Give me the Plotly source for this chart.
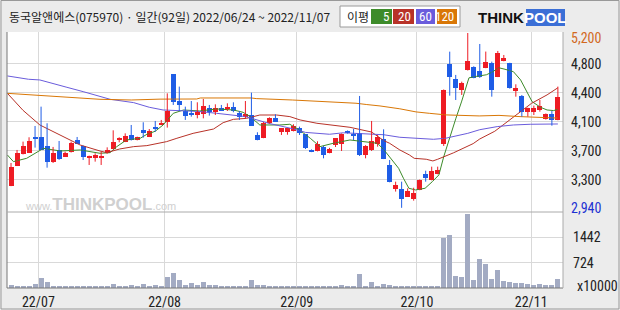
import plotly.graph_objects as go

W, H = 620, 310

TITLE = "동국알앤에스(075970) · 일간(92일) 2022/06/24 ~ 2022/11/07"

OPEN = [3227, 3485, 3636, 3653, 3852, 3856, 3740, 3537, 3683, 3602,
        3662, 3813, 3740, 3580, 3580, 3593, 3645, 3701, 3817, 3796,
        3882, 3817, 3946, 3860, 3985, 4020, 4054, 4666, 4321, 4192,
        4170, 4140, 4149, 4226, 4183, 4226, 4218, 4248, 4170, 4110,
        4140, 3882, 3847, 4033, 4106, 3917, 3917, 3934, 3968, 3891,
        3688, 3675, 3731, 3650, 3753, 3762, 3930, 3895, 3912, 3623,
        3688, 3765, 3830, 3494, 3180, 3180, 3084, 3050, 3171, 3378,
        3300, 3378, 3762, 4800, 4606, 4464, 4722, 4757, 4710, 4752,
        4817, 4636, 4839, 4809, 4455, 4390, 4183, 4183, 4205, 4085,
        4153, 4076]
HIGH = [3520, 3688, 3796, 3852, 3998, 4248, 4033, 3727, 3804, 3666,
        3796, 3856, 3745, 3615, 3645, 3666, 3722, 3942, 3852, 3903,
        4011, 3860, 4046, 3959, 4063, 4076, 4420, 4670, 4507, 4248,
        4321, 4304, 4347, 4270, 4278, 4270, 4291, 4304, 4192, 4321,
        4429, 3917, 4050, 4110, 4149, 3970, 3962, 4020, 3990, 3895,
        3695, 3800, 3740, 3715, 3842, 3900, 3940, 3959, 4386, 3750,
        4063, 3882, 3955, 3558, 3278, 3278, 3192, 3200, 3305, 3420,
        3472, 3472, 4470, 4959, 4658, 4571, 5200, 4770, 5058, 4960,
        4830, 4968, 4916, 4815, 4537, 4399, 4235, 4261, 4335, 4160,
        4192, 4507]
LOW = [3220, 3480, 3630, 3648, 3718, 3690, 3459, 3520, 3560, 3598,
       3655, 3770, 3558, 3494, 3537, 3494, 3640, 3696, 3787, 3790,
       3810, 3812, 3847, 3855, 3925, 4015, 3977, 4270, 4192, 4076,
       4119, 4097, 4097, 4132, 4140, 4195, 4192, 4175, 4076, 4097,
       4002, 3813, 3840, 4028, 4050, 3882, 3885, 3928, 3882, 3700,
       3660, 3670, 3580, 3645, 3726, 3675, 3900, 3817, 3610, 3580,
       3675, 3731, 3570, 3270, 3150, 2940, 3080, 3033, 3168, 3278,
       3295, 3374, 3740, 4390, 4334, 4399, 4715, 4615, 4620, 4745,
       4377, 4630, 4834, 4480, 4377, 4119, 4119, 4140, 4183, 4080,
       4002, 4072]
CLOSE = [3472, 3649, 3744, 3804, 3839, 3692, 3528, 3653, 3567, 3649,
         3783, 3770, 3602, 3610, 3623, 3610, 3688, 3796, 3839, 3869,
         3817, 3856, 3912, 3933, 3959, 4041, 4192, 4313, 4270, 4132,
         4140, 4175, 4257, 4175, 4226, 4201, 4244, 4192, 4110, 4157,
         4002, 3813, 4041, 4106, 4054, 3968, 3968, 3998, 3904, 3718,
         3666, 3762, 3623, 3700, 3839, 3891, 3904, 3869, 3623, 3744,
         3804, 3860, 3576, 3278, 3236, 3051, 3162, 3127, 3300, 3330,
         3420, 3430, 4464, 4636, 4486, 4550, 4839, 4623, 4636, 4830,
         4464, 4946, 4881, 4486, 4494, 4183, 4235, 4235, 4257, 4153,
         4076, 4377]
VOLUME = [77, 45, 45, 45, 105, 287, 172, 45, 45, 45,
          45, 45, 45, 45, 45, 45, 45, 115, 45, 45,
          77, 45, 115, 45, 77, 45, 316, 431, 220, 77,
          144, 77, 172, 96, 77, 45, 45, 45, 45, 45,
          220, 96, 77, 45, 45, 45, 45, 45, 45, 45,
          45, 45, 45, 45, 45, 77, 45, 45, 392, 45,
          172, 45, 105, 77, 45, 45, 45, 45, 45, 45,
          45, 45, 1435, 1493, 335, 316, 2115, 220, 823, 680,
          249, 507, 191, 172, 144, 144, 105, 77, 105, 77,
          77, 249]

MA5_X = [-0.6, 0.4, 2.6, 5.4, 8.2, 11.5, 14.8, 16.5, 17.6, 19.2, 21.5, 22.6, 24.0,
         25.3, 27.0, 28.7, 31.4, 34.2, 37.0, 38.6, 39.8, 41.4, 44.7, 46.4, 48.1,
         49.8, 51.4, 53.6, 56.4, 59.2, 61.0, 62.3, 63.4, 64.5, 65.3, 66.2, 67.3,
         68.9, 70.1, 71.2, 72.0, 73.0, 74.0, 75.0, 76.2, 77.5, 79.1, 80.2, 81.1,
         82.2, 83.6, 84.8, 85.9, 86.7, 88.1, 89.2, 90.3, 91.0]
MA5_Y = [3623, 3537, 3580, 3709, 3675, 3688, 3645, 3653, 3731, 3817, 3839, 3890, 3930,
         4011, 4162, 4205, 4192, 4218, 4205, 4175, 4119, 4011, 4011, 4020, 3940,
         3839, 3731, 3774, 3817, 3796, 3774, 3666, 3559, 3451, 3322, 3193, 3171,
         3193, 3278, 3365, 3600, 3860, 4090, 4320, 4620, 4640, 4660, 4700, 4752,
         4731, 4700, 4593, 4421, 4313, 4240, 4205, 4197, 4214]
MA20_X = [-0.6, 2.0, 4.8, 8.2, 11.5, 14.8, 15.9, 18.1, 20.4, 22.6, 24.8, 25.9, 27.6,
          30.3, 33.7, 35.3, 37.0, 39.2, 41.4, 44.2, 46.4, 48.1, 50.9, 56.4, 60.0,
          62.0, 63.0, 64.7, 66.3, 67.1, 69.1, 70.2, 71.0, 73.6, 76.9, 78.0, 80.5,
          83.6, 86.6, 89.2, 91.0]
MA20_Y = [4420, 4200, 4011, 3882, 3752, 3675, 3653, 3701, 3731, 3744, 3774, 3796, 3839,
          3903, 3959, 4041, 4084, 4097, 4140, 4140, 4119, 4076, 4033, 3981, 3920,
          3810, 3774, 3688, 3623, 3580, 3568, 3546, 3568, 3650, 3770, 3830, 3930,
          4110, 4290, 4400, 4492]
MA60_X = [-0.6, 1.0, 2.9, 4.8, 7.0, 9.3, 12.0, 14.8, 16.5, 20.4, 23.0, 25.3, 28.7,
          31.4, 34.2, 36.4, 39.0, 43.0, 47.0, 49.0, 51.0, 53.0, 55.3, 59.0, 62.0,
          64.7, 67.4, 70.3, 72.3, 74.0, 76.0, 78.0, 80.9, 83.6, 86.4, 91.0]
MA60_Y = [4645, 4628, 4602, 4593, 4550, 4498, 4442, 4377, 4343, 4300, 4240, 4205, 4192,
          4185, 4162, 4141, 4120, 4030, 3960, 3915, 3904, 3891, 3910, 3891, 3885,
          3852, 3840, 3826, 3839, 3870, 3903, 3950, 3990, 4011, 4020, 4024]
MA120_X = [-0.6, 1.0, 3.7, 5.9, 8.2, 10.9, 13.1, 14.8, 20.0, 24.8, 30.9, 31.5, 40.0,
           40.8, 46.8, 50.2, 54.1, 57.4, 59.2, 61.4, 64.7, 67.4, 69.6, 72.4, 77.9,
           81.2, 84.7, 87.7, 91.0]
MA120_Y = [4420, 4412, 4399, 4390, 4377, 4369, 4356, 4343, 4334, 4345, 4347, 4360, 4360,
           4352, 4334, 4322, 4305, 4292, 4275, 4257, 4220, 4180, 4162, 4141, 4128,
           4135, 4119, 4110, 4100]

MONTH_LABELS = ["22/07", "22/08", "22/09", "22/10", "22/11"]
MONTH_START_IDX = [5, 26, 48, 68, 87]

PRICE_GRID = [3300, 3675, 4050, 4425, 4800]
PRICE_GRID_TEXT = ["3,300", "3,700", "4,100", "4,400", "4,800"]
PRICE_MAX, PRICE_MAX_TEXT = 5200, "5,200"
PRICE_MIN, PRICE_MIN_TEXT = 2940, "2,940"
VOL_GRID = [724, 1442]
VOL_GRID_TEXT = ["724", "1442"]
VOL_UNIT = "x10000"

MA_NAMES = ["5", "20", "60", "120"]
MA_COLORS = ["#3d8b2a", "#b83228", "#6a5cdc", "#d97706"]
UP_COLOR = "#ee1c24"
DOWN_COLOR = "#1f5de6"
VOL_COLOR = "#a3abc3"
GRID = "#d9d9d9"
NARROW = "Liberation Sans Narrow, Arial Narrow, Roboto Condensed, Liberation Sans, sans-serif"
KFONT = "Noto Sans CJK KR, Noto Sans, sans-serif"


def px(x):
    return x / W


def py(y):
    return 1 - y / H


idx = list(range(len(OPEN)))
fig = go.Figure()

# moving averages (below candles)
for name, xs, ys, col in zip(MA_NAMES, [MA5_X, MA20_X, MA60_X, MA120_X],
                             [MA5_Y, MA20_Y, MA60_Y, MA120_Y], MA_COLORS):
    fig.add_trace(go.Scatter(x=xs, y=ys, mode="lines", line=dict(color=col, width=1),
                             xaxis="x", yaxis="y", hoverinfo="skip", showlegend=False))

# candles
for up in (True, False):
    col = UP_COLOR if up else DOWN_COLOR
    wx, wy, bx, by, bb = [], [], [], [], []
    for i, o, h, l, c in zip(idx, OPEN, HIGH, LOW, CLOSE):
        if (c >= o) != up:
            continue
        wx += [i, i, None]
        wy += [l, h, None]
        bx.append(i)
        lo, hi = min(o, c), max(o, c)
        by.append(max(hi - lo, 13))
        bb.append(lo)
    fig.add_trace(go.Scatter(x=wx, y=wy, mode="lines", line=dict(color=col, width=1),
                             xaxis="x", yaxis="y", hoverinfo="skip", showlegend=False))
    fig.add_trace(go.Bar(x=bx, y=by, base=bb, width=0.84, marker=dict(color=col, line=dict(width=0)),
                         xaxis="x", yaxis="y", showlegend=False))

# volume
fig.add_trace(go.Bar(x=idx, y=VOLUME, width=0.84, marker=dict(color=VOL_COLOR, line=dict(width=0)),
                     xaxis="x", yaxis="y2", showlegend=False))

ann = []
# title
ann.append(dict(x=px(7), y=py(17), xref="paper", yref="paper", xanchor="left", yanchor="middle",
                text=TITLE, showarrow=False, font=dict(family=KFONT, size=12, color="#222")))
# legend box
ann.append(dict(x=px(345), y=py(17), xref="paper", yref="paper", xanchor="left", yanchor="middle",
                text="이평", showarrow=False, font=dict(family=KFONT, size=12, color="#222")))
box_x = [(371, 392), (393, 414), (416, 435), (437, 457)]
shapes = []
shapes.append(dict(type="rect", xref="paper", yref="paper", x0=px(340), x1=px(460), y0=py(27), y1=py(6),
                   fillcolor="white", line=dict(color="#9a9a9a", width=1)))
for (a, b), name, col in zip(box_x, MA_NAMES, MA_COLORS):
    shapes.append(dict(type="rect", xref="paper", yref="paper", x0=px(a), x1=px(b), y0=py(24), y1=py(9),
                       fillcolor=col, line=dict(width=0)))
    ann.append(dict(x=px(b - 1), y=py(16.5), xref="paper", yref="paper", xanchor="right", yanchor="middle",
                    text=name, showarrow=False, font=dict(family=NARROW, size=13, color="white")))
# logo
shapes.append(dict(type="rect", xref="paper", yref="paper", x0=px(526), x1=px(565), y0=py(26), y1=py(9),
                   fillcolor="#3b6fd6", line=dict(width=0)))
ann.append(dict(x=px(526), y=py(17.5), xref="paper", yref="paper", xanchor="right", yanchor="middle",
                text="<b>THINK</b>", showarrow=False,
                font=dict(family="Liberation Sans, Arial, sans-serif", size=15, color="#111")))
ann.append(dict(x=px(545.5), y=py(17.5), xref="paper", yref="paper", xanchor="center", yanchor="middle",
                text="<b>POOL</b>", showarrow=False,
                font=dict(family="Liberation Sans, Arial, sans-serif", size=15, color="white")))
# watermark
ann.append(dict(x=px(23), y=py(204), xref="paper", yref="paper", xanchor="left", yanchor="middle",
                text="<span style='font-size:11px'>www.</span><b>THINKPOOL</b><span style='font-size:11px'>.com</span>",
                showarrow=False, font=dict(family="Liberation Sans, Arial, sans-serif", size=17, color="#d0d0d0")))

# price labels
for v, t in zip(PRICE_GRID, PRICE_GRID_TEXT):
    ann.append(dict(x=px(569), y=v, xref="paper", yref="y", xanchor="left", yanchor="middle",
                    text=t, showarrow=False, font=dict(family=NARROW, size=14, color="#222")))
ann.append(dict(x=px(569), y=PRICE_MAX, xref="paper", yref="y", xanchor="left", yanchor="middle", yshift=-5,
                text=PRICE_MAX_TEXT, showarrow=False, font=dict(family=NARROW, size=14, color="#d2691e")))
ann.append(dict(x=px(569), y=PRICE_MIN, xref="paper", yref="y", xanchor="left", yanchor="middle",
                text=PRICE_MIN_TEXT, showarrow=False, font=dict(family=NARROW, size=14, color="#1e32d2")))
for v, t in zip(VOL_GRID, VOL_GRID_TEXT):
    ann.append(dict(x=px(571), y=v, xref="paper", yref="y2", xanchor="left", yanchor="middle",
                    text=t, showarrow=False, font=dict(family=NARROW, size=14, color="#222")))
ann.append(dict(x=px(575), y=py(286), xref="paper", yref="paper", xanchor="left", yanchor="middle",
                text=VOL_UNIT, showarrow=False, font=dict(family=NARROW, size=14, color="#222")))

# frames
shapes += [
    dict(type="line", xref="paper", yref="paper", x0=px(7), x1=px(7), y0=py(32), y1=py(288),
         line=dict(color="#777", width=1)),
    dict(type="line", xref="paper", yref="paper", x0=px(7), x1=px(563), y0=py(288), y1=py(288),
         line=dict(color="#777", width=1)),
    dict(type="line", xref="paper", yref="paper", x0=px(563), x1=px(563), y0=py(32), y1=py(288),
         line=dict(color="#aaa", width=1)),
    dict(type="line", xref="paper", yref="paper", x0=px(7), x1=px(563), y0=py(212), y1=py(212),
         line=dict(color="#aaa", width=1)),
    dict(type="rect", xref="paper", yref="paper", x0=px(1), x1=px(619), y0=py(309), y1=py(0.5),
         line=dict(color="#999", width=1)),
]

fig.update_layout(
    width=W, height=H, margin=dict(l=0, r=0, t=0, b=0),
    paper_bgcolor="#ececec", plot_bgcolor="white",
    barmode="overlay", bargap=0, showlegend=False,
    xaxis=dict(domain=[px(7), px(563)], range=[-0.67, 91.85], anchor="y2",
               tickvals=[m - 0.45 for m in MONTH_START_IDX], ticktext=MONTH_LABELS,
               showgrid=True, gridcolor=GRID, gridwidth=1, zeroline=False, showline=False,
               ticks="", ticklabelstandoff=4,
               tickfont=dict(family=NARROW, size=14, color="#222")),
    yaxis=dict(domain=[py(212), py(32)], range=[2886, 5213], anchor="x",
               tickvals=PRICE_GRID, showticklabels=False, showgrid=True, gridcolor=GRID,
               zeroline=False, showline=False, ticks=""),
    yaxis2=dict(domain=[py(288), py(212)], range=[0, 2160], anchor="x",
                tickvals=VOL_GRID, showticklabels=False, showgrid=True, gridcolor=GRID,
                zeroline=False, showline=False, ticks=""),
    annotations=ann, shapes=shapes,
)

fig.write_html("out.html")
